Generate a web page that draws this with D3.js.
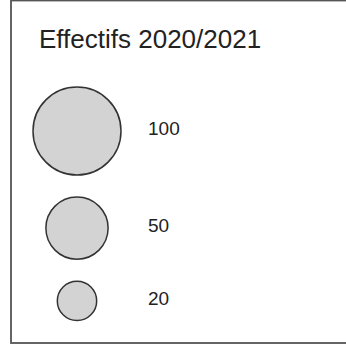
<!DOCTYPE html>
<html>
<head>
<meta charset="utf-8">
<script src="https://cdn.jsdelivr.net/npm/d3@7"></script>
<style>
  body { margin: 0; background: #fff; }
</style>
</head>
<body>
<div id="legend_space"></div>
<script>
var width = 346, height = 345;

var title = "Effectifs 2020/2021";
var values = [100, 50, 20];
var labels = ["100", "50", "20"];

var svg = d3.select('#legend_space').append('svg')
	.attr('width', width)
	.attr('height', height)
	.style('display', 'block');

// frame (open on the right side)
svg.append('rect')
	.attr('x', 11)
	.attr('y', 0.5)
	.attr('width', 400)
	.attr('height', 342.5)
	.style('fill', 'white')
	.style('stroke', '#555')
	.style('stroke-width', 1.8);

svg.append('text')
	.attr('x', 39)
	.attr('y', 48)
	.text(title)
	.style('font-family', 'Liberation Sans, Arial, sans-serif')
	.style('font-size', '26px')
	.style('fill', '#222');

var r = d3.scaleSqrt().domain([0, 100]).range([0, 44]);

// stack circles top to bottom with a fixed gap
var gap = 22;
var y_pos = 87;
var items = [];
values.forEach(function(v, i) {
	var rad = r(v);
	items.push({ value: v, label: labels[i], r: rad, cy: y_pos + rad });
	y_pos += 2 * rad + gap;
});

var cx = 77;

var g = svg.selectAll('g.item')
	.data(items)
	.enter().append('g')
	.attr('class', 'item');

g.append('circle')
	.attr('cx', cx)
	.attr('cy', function(d) { return d.cy; })
	.attr('r', function(d) { return d.r; })
	.style('fill', '#d3d3d3')
	.style('stroke', '#333')
	.style('stroke-width', 1.5);

g.append('text')
	.attr('x', 148)
	.attr('y', function(d) { return d.cy + 4; })
	.text(function(d) { return d.label; })
	.style('font-family', 'Liberation Sans, Arial, sans-serif')
	.style('font-size', '19px')
	.style('fill', '#222');
</script>
</body>
</html>
